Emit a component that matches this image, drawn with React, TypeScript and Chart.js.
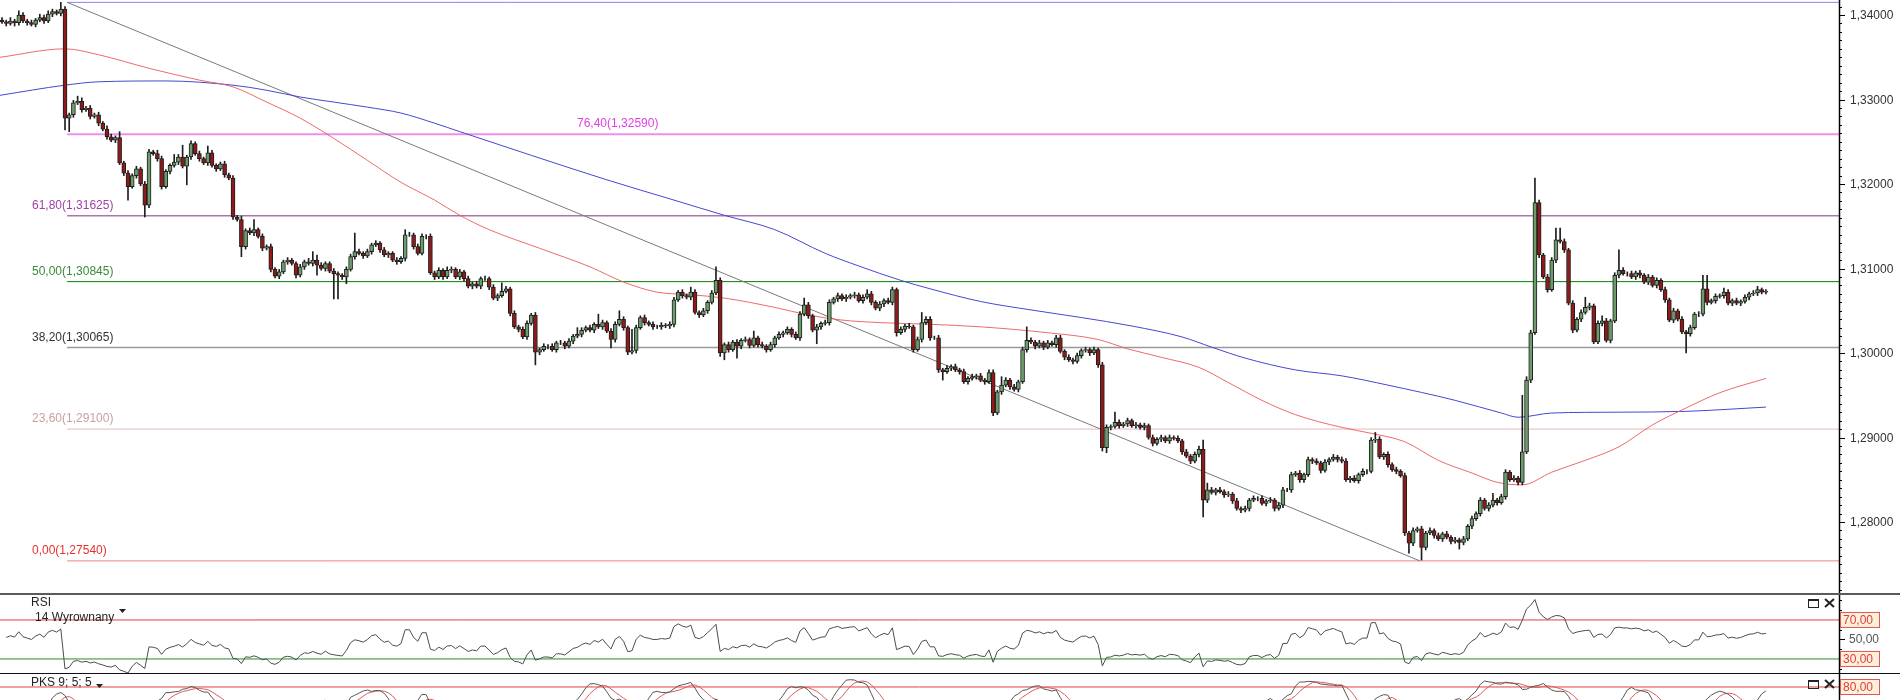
import React, { useEffect, useRef } from "react";
import { Chart, registerables } from "chart.js";

Chart.register(...registerables);

// ---------- DATA (prices in 1/10000, e.g. 13392 = 1,3392) ----------
const FIRST_OPEN = 13394;

const closes = [
  13392,13390,13393,13391,13400,13393,13391,13389,13394,13397,
  13393,13401,13404,13402,13407,13278,13282,13296,13298,13288,
  13290,13280,13282,13272,13265,13256,13252,13255,13225,13213,
  13197,13210,13218,13200,13175,13238,13236,13230,13197,13215,
  13222,13226,13232,13221,13232,13248,13236,13230,13225,13237,
  13222,13218,13224,13211,13207,13161,13158,13126,13145,13142,
  13146,13138,13124,13126,13099,13091,13096,13108,13110,13106,
  13092,13102,13108,13106,13110,13104,13100,13106,13097,13094,
  13092,13090,13099,13114,13120,13118,13115,13120,13128,13130,
  13122,13116,13118,13110,13108,13112,13140,13140,13126,13118,
  13138,13138,13095,13090,13098,13090,13098,13099,13090,13096,
  13088,13079,13082,13079,13088,13088,13078,13065,13068,13073,
  13076,13047,13031,13028,13019,13035,13045,13001,13004,13008,
  13008,13004,13012,13012,13008,13014,13020,13022,13027,13030,
  13027,13034,13031,13036,13026,13016,13034,13040,13030,13001,
  13003,13030,13042,13036,13034,13031,13031,13033,13032,13034,
  13063,13072,13068,13066,13072,13048,13045,13050,13060,13071,
  13086,13000,13010,13004,13013,13008,13015,13016,13009,13018,
  13010,13008,13004,13010,13018,13022,13024,13028,13022,13018,
  13046,13057,13044,13027,13031,13035,13036,13060,13064,13068,
  13064,13066,13068,13069,13062,13066,13070,13060,13053,13058,
  13062,13060,13075,13024,13028,13032,13031,13004,13016,13036,
  13040,13018,13018,12980,12978,12982,12984,12980,12978,12966,
  12970,12972,12973,12968,12966,12977,12929,12954,12962,12968,
  12960,12957,12966,13004,13015,13013,13008,13012,13007,13012,
  13010,13018,13002,12995,12992,12990,12997,13003,13004,13000,
  13004,12986,12888,12912,12913,12918,12914,12916,12920,12914,
  12915,12912,12914,12900,12893,12898,12900,12896,12900,12899,
  12896,12883,12878,12872,12880,12886,12826,12838,12835,12838,
  12836,12832,12833,12825,12816,12814,12816,12826,12828,12828,
  12822,12825,12826,12816,12820,12838,12838,12856,12858,12850,
  12856,12874,12872,12870,12861,12871,12874,12877,12874,12872,
  12850,12852,12849,12856,12860,12860,12897,12898,12877,12880,
  12868,12862,12860,12855,12787,12775,12790,12792,12770,12787,
  12790,12784,12780,12786,12782,12777,12779,12776,12780,12795,
  12804,12810,12826,12816,12820,12826,12823,12830,12859,12850,
  12852,12847,12883,12968,13024,13178,13116,13090,13075,13110,
  13134,13132,13122,13059,13027,13040,13048,13054,13056,13013,
  13035,13038,13015,13038,13092,13098,13094,13094,13090,13095,
  13092,13084,13090,13080,13086,13075,13063,13039,13050,13040,
  13025,13023,13030,13046,13046,13076,13060,13062,13067,13068,
  13072,13059,13062,13059,13061,13066,13070,13071,13075,13072,
  13073,
];

// upper / lower shadow lengths beyond the body (1/10000)
const wickUp = [
  3,2,4,2,5,3,2,3,2,4, 3,4,3,2,8,3,2,3,6,4, 2,3,2,3,2,4,3,2,7,2, 3,2,3,2,3,3,2,4,3,2,
  2,9,3,14,2,3,2,3,2,8, 3,2,2,3,2,3,2,4,2,3, 12,2,3,2,3,2,3,2,3,2, 2,3,2,4,10,6,3,2,2,3,
  2,2,3,3,22,3,2,3,2,3, 2,3,2,2,3,2,6,3,2,3, 3,2,3,2,3,2,4,3,2,3, 2,3,2,3,2,3,2,3,2,10,
  3,2,3,2,3,3,2,3,2,3, 2,3,2,3,2,3,2,8,3,2, 3,2,12,3,2,3,3,10,3,2, 25,3,2,3,2,3,2,3,2,3,
  3,2,3,2,6,3,2,3,2,3, 16,3,2,3,2,3,2,3,2,8, 2,3,2,3,2,3,2,3,2,3, 3,8,3,2,3,2,3,3,2,3,
  2,3,2,3,2,3,5,3,2,3, 2,3,3,2,3,2,3,2,3,12, 3,3,2,3,2,3,2,3,2,3, 2,3,2,3,2,3,3,2,10,3,
  2,3,2,3,16,3,2,3,2,3, 2,3,3,2,3,2,3,2,3,2, 3,2,3,3,2,12,3,2,3,2, 3,2,3,2,3,2,3,2,3,2,
  3,2,3,2,3,4,11,8,3,2, 3,2,3,2,3,2,3,2,3,2, 3,2,3,2,3,3,2,3,2,3, 2,3,2,3,2,3,2,3,2,3,
  3,2,3,2,3,2,3,8,3,2, 3,2,3,2,3,2,3,2,3,2, 3,2,3,2,3,2,3,2,3,2, 3,2,3,2,3,8,2,3,3,2,
  3,2,67,4,3,29,3,2,3,3, 14,14,3,2,3,2,3,12,3,2, 3,6,3,2,3,24,3,2,3,2, 3,2,3,2,3,2,3,2,3,2,
  3,2,3,2,3,16,16,2,3,2, 5,3,2,3,2,3,2,3,4,2, 2,
];
const wickDn = [
  2,3,2,4,3,2,3,2,3,2, 3,2,3,2,3,14,16,3,2,3, 2,3,2,3,2,3,2,3,2,3, 16,2,3,2,14,3,2,3,3,2,
  3,2,3,2,22,3,2,3,2,3, 2,3,2,3,2,3,2,12,3,2, 3,2,3,2,3,2,3,2,3,2, 3,2,3,2,3,12,2,3,2,30,
  28,3,8,2,3,2,3,2,3,2, 3,2,3,2,3,2,3,2,3,2, 2,3,2,3,2,3,2,3,2,3, 3,2,3,2,3,2,3,2,3,2,
  2,3,2,3,2,3,2,15,3,2, 3,2,3,2,3,2,3,2,3,2, 2,3,2,3,2,10,3,2,3,3, 2,3,2,3,2,3,2,3,2,3,
  3,2,3,2,3,2,3,2,3,2, 2,4,8,3,2,14,3,2,3,2, 3,2,3,2,3,2,3,2,3,2, 3,2,3,2,16,3,2,3,2,3,
  2,3,2,3,2,3,2,3,2,3, 3,2,3,4,2,3,2,3,2,3, 2,3,2,3,10,2,3,2,3,2, 3,2,3,2,3,2,3,2,3,2,
  3,2,3,2,3,2,3,2,3,2, 2,3,2,3,2,3,2,3,2,3, 2,3,4,6,3,2,3,2,3,2, 3,2,3,2,3,2,3,2,3,2,
  2,3,2,3,2,3,20,3,2,3, 2,3,2,3,2,3,2,3,2,3, 2,3,2,3,2,3,2,3,2,3, 3,2,3,2,3,2,3,2,3,2,
  2,3,2,3,2,3,2,3,2,3, 3,2,3,2,3,12,3,2,15,3, 2,3,2,3,2,3,2,8,3,2, 3,2,3,2,3,2,3,2,3,2,
  2,3,3,2,3,2,3,2,3,2, 3,2,3,2,3,2,3,2,3,2, 2,3,2,3,2,3,2,3,2,3, 3,2,3,2,3,2,3,2,3,2,
  2,23,3,2,3,2,3,2,3,2, 3,2,3,2,3,2,3,2,3,2, 2,
];

// moving averages: candle index -> price (1/10000)
const redMaIdx = [-0.5,15,23,35,47,55,63,71,79,87,95,103,109,116,128,140,148,156,164,172,184,192,200,209,221,233,249,261,268,276,285,292,300,308,319,326,334,342,350,356,362,369,377,385,393,401,409,420];
const redMaVal = [13350,13360,13353,13337,13323,13315,13297,13278,13254,13228,13202,13181,13163,13146,13124,13102,13084,13072,13069,13065,13054,13045,13039,13036,13034,13031,13024,13016,13005,12995,12983,12965,12944,12927,12912,12905,12895,12873,12858,12847,12844,12859,12873,12889,12915,12935,12953,12970];
const blueMaIdx = [-0.5,15,23,39,55,63,71,79,87,95,103,109,126,144,160,172,184,196,204,214,221,233,245,257,269,281,288,296,308,319,330,346,357,361,369,385,401,420];
const blueMaVal = [13305,13317,13321,13322,13317,13311,13303,13297,13291,13284,13272,13262,13234,13205,13181,13163,13146,13118,13103,13086,13076,13061,13051,13042,13032,13019,13007,12994,12980,12973,12962,12944,12929,12924,12929,12930,12931,12936];

// Fibonacci retracement
const fibPct = [0, 23.6, 38.2, 50, 61.8, 76.4, 100];
const fibPrice = [1.2754, 1.291, 1.30065, 1.30845, 1.31625, 1.3259, 1.3415];
const fibLineColor = ["#f08080", "#e6b8b8", "#9a9a9a", "#008000", "#a878a8", "#f08ef0", "#8484f0"];
const fibTextColor = ["#e83030", "#c8a0a0", "#333333", "#3a8a3a", "#a040a8", "#e040e0", "#6060e0"];
const fibLineWidth = [1, 1, 1.5, 1, 1.5, 2, 1];
const fibLabelX = [32, 32, 32, 32, 32, 577, 32];
const FIB_START = 15.5;

// trend line (100% high -> 0% low)
const trendIdx = [15.5, 337.6];
const trendVal = [1.3415, 1.2754];

// indicator settings
const RSI_PERIOD = 14;
const RSI_LEVELS = [70, 30];
const RSI_SEED = [3.2, 2.8];
const STOCH_PARAMS = [9, 5, 5];
const PKS_LEVEL = 80;

// axes ranges
const X_MIN = -0.48;
const X_MAX = 437.4;
const Y_MIN = 1.2716;
const Y_MAX = 1.34178;
const RSI_MIN = 15.6;
const RSI_MAX = 95.6;
const PKS_MIN = 56.36;
const PKS_MAX = 105.45;

const FONT = '12px "Liberation Sans", Arial, sans-serif';
const AXIS_X = 1839;
const GREEN = "#6c9c6c";
const RED = "#8e1a1a";
const EDGE = "#1e1e1e";

// ---------- derived ----------
const P = (v: number) => v / 10000;
const opens = closes.map((c, i) => (i === 0 ? FIRST_OPEN : closes[i - 1]));
const highs = closes.map((c, i) => Math.max(opens[i], c) + wickUp[i]);
const lows = closes.map((c, i) => Math.min(opens[i], c) - wickDn[i]);

function rsiSeries(cl: number[], n: number) {
  let ag = RSI_SEED[0];
  let al = RSI_SEED[1];
  const out: { x: number; y: number }[] = [];
  for (let i = 1; i < cl.length; i++) {
    const d = cl[i] - cl[i - 1];
    ag = (ag * (n - 1) + Math.max(d, 0)) / n;
    al = (al * (n - 1) + Math.max(-d, 0)) / n;
    out.push({ x: i, y: al === 0 ? 100 : 100 - 100 / (1 + ag / al) });
  }
  return out;
}

function sma(arr: number[], n: number) {
  return arr.map((_, i) => {
    const s = Math.max(0, i - n + 1);
    let sum = 0;
    for (let j = s; j <= i; j++) sum += arr[j];
    return sum / (i - s + 1);
  });
}

function stochastic() {
  const [kp, sl, dp] = STOCH_PARAMS;
  const raw = closes.map((c, i) => {
    const s = Math.max(0, i - kp + 1);
    let hh = -Infinity;
    let ll = Infinity;
    for (let j = s; j <= i; j++) {
      hh = Math.max(hh, highs[j]);
      ll = Math.min(ll, lows[j]);
    }
    return hh === ll ? 50 : ((c - ll) / (hh - ll)) * 100;
  });
  const k = sma(raw, sl);
  const d = sma(k, dp);
  return { k, d };
}

const baseOptions = (ymin: number, ymax: number, bottomPad = 0) => ({
  animation: false as const,
  responsive: false,
  devicePixelRatio: 1,
  events: [] as any[],
  layout: { padding: { left: 0, right: 0, top: 0, bottom: bottomPad } },
  plugins: { legend: { display: false }, tooltip: { enabled: false } },
  scales: {
    x: { type: "linear" as const, min: X_MIN, max: X_MAX, display: false, offset: false },
    y: {
      type: "linear" as const,
      position: "right" as const,
      min: ymin,
      max: ymax,
      grid: { display: false },
      border: { display: false },
      ticks: { display: false },
      afterFit: (s: any) => {
        s.width = 1900 - AXIS_X;
      },
    },
  },
});

function hLine(y: number, color: string, width = 1, x0 = X_MIN) {
  return {
    type: "line" as const,
    data: [
      { x: x0, y },
      { x: X_MAX, y },
    ],
    borderColor: color,
    borderWidth: width,
    pointRadius: 0,
    order: 3,
  };
}

function axisLine(ctx: CanvasRenderingContext2D, h: number) {
  ctx.strokeStyle = "#000";
  ctx.lineWidth = 1.5;
  ctx.beginPath();
  ctx.moveTo(AXIS_X + 0.5, 0);
  ctx.lineTo(AXIS_X + 0.5, h);
  ctx.stroke();
}

function levelBox(ctx: CanvasRenderingContext2D, cy: number, text: string) {
  ctx.fillStyle = "#fdf0da";
  ctx.fillRect(AXIS_X + 1, cy - 8, 40, 16);
  ctx.strokeStyle = "#e05555";
  ctx.lineWidth = 1;
  ctx.strokeRect(AXIS_X + 1.5, cy - 7.5, 39, 15);
  ctx.fillStyle = "#e03c3c";
  ctx.font = FONT;
  ctx.textAlign = "left";
  ctx.textBaseline = "middle";
  ctx.fillText(text, AXIS_X + 4, cy + 0.5);
}

function winIcons(ctx: CanvasRenderingContext2D, top: number) {
  ctx.strokeStyle = "#222";
  ctx.lineWidth = 1;
  ctx.strokeRect(1808.5, top + 0.5, 10, 8);
  ctx.fillStyle = "#222";
  ctx.fillRect(1808, top, 11, 2);
  ctx.lineWidth = 2;
  ctx.beginPath();
  ctx.moveTo(1825, top);
  ctx.lineTo(1834, top + 8);
  ctx.moveTo(1834, top);
  ctx.lineTo(1825, top + 8);
  ctx.stroke();
}

function triangle(ctx: CanvasRenderingContext2D, x: number, y: number) {
  ctx.fillStyle = "#222";
  ctx.beginPath();
  ctx.moveTo(x, y);
  ctx.lineTo(x + 7, y);
  ctx.lineTo(x + 3.5, y + 4);
  ctx.closePath();
  ctx.fill();
}

const fmt = (v: number, d: number) => v.toFixed(d).replace(".", ",");

// ---------- MAIN PANEL ----------
function mainConfig(): any {
  const bodyData = closes.map((c, i) => ({ x: i, y: [P(opens[i]), P(c)] }));
  const wickData = closes.map((c, i) => ({ x: i, y: [P(lows[i]), P(highs[i])] }));
  const bodyColors = closes.map((c, i) => (c >= opens[i] ? GREEN : RED));

  const plugin = {
    id: "mainDecor",
    afterDraw(chart: any) {
      const ctx: CanvasRenderingContext2D = chart.ctx;
      const ys = chart.scales.y;
      ctx.save();
      // fib labels
      ctx.font = FONT;
      ctx.textAlign = "left";
      ctx.textBaseline = "middle";
      fibPct.forEach((p, j) => {
        ctx.fillStyle = fibTextColor[j];
        ctx.fillText(`${fmt(p, 2)}(${fmt(fibPrice[j], 5)})`, fibLabelX[j], ys.getPixelForValue(fibPrice[j]) - 10);
      });
      // axis
      axisLine(ctx, chart.height);
      ctx.strokeStyle = "#000";
      ctx.lineWidth = 1;
      const k0 = Math.ceil(Y_MIN * 1000);
      const k1 = Math.floor(Y_MAX * 1000);
      for (let k = k0; k <= k1; k++) {
        const py = Math.round(ys.getPixelForValue(k / 1000)) + 0.5;
        const major = k % 10 === 0;
        ctx.beginPath();
        ctx.moveTo(AXIS_X, py);
        ctx.lineTo(AXIS_X + (major ? 6 : 3), py);
        ctx.stroke();
        if (major) {
          ctx.fillStyle = "#333";
          ctx.fillText(fmt(k / 1000, 5), AXIS_X + 11, py);
        }
      }
      // panel separator
      ctx.fillStyle = "#5a5a5a";
      ctx.fillRect(0, chart.height - 2, chart.width, 2);
      ctx.restore();
    },
  };

  const datasets: any[] = [
    {
      type: "bar",
      data: bodyData,
      backgroundColor: bodyColors,
      borderColor: EDGE,
      borderWidth: 1,
      borderSkipped: false,
      barThickness: 4,
      grouped: false,
      order: 0,
    },
    {
      type: "bar",
      data: wickData,
      backgroundColor: EDGE,
      borderWidth: 0,
      barThickness: 1,
      grouped: false,
      order: 1,
    },
    {
      type: "line",
      data: redMaIdx.map((x, k) => ({ x, y: P(redMaVal[k]) })),
      borderColor: "rgba(236,90,90,0.9)",
      borderWidth: 1,
      pointRadius: 0,
      cubicInterpolationMode: "monotone",
      order: 2,
    },
    {
      type: "line",
      data: blueMaIdx.map((x, k) => ({ x, y: P(blueMaVal[k]) })),
      borderColor: "#4646d2",
      borderWidth: 1,
      pointRadius: 0,
      cubicInterpolationMode: "monotone",
      order: 2,
    },
    {
      type: "line",
      data: trendIdx.map((x, k) => ({ x, y: trendVal[k] })),
      borderColor: "#7a7a7a",
      borderWidth: 1,
      pointRadius: 0,
      order: 2,
    },
    ...fibPrice.map((v, j) => hLine(v, fibLineColor[j], fibLineWidth[j], FIB_START)),
  ];

  return {
    type: "bar",
    data: { datasets },
    options: baseOptions(Y_MIN, Y_MAX, 2),
    plugins: [plugin],
  };
}

// ---------- RSI PANEL ----------
function rsiConfig(): any {
  const plugin = {
    id: "rsiDecor",
    afterDraw(chart: any) {
      const ctx: CanvasRenderingContext2D = chart.ctx;
      const ys = chart.scales.y;
      ctx.save();
      ctx.font = FONT;
      ctx.textAlign = "left";
      ctx.textBaseline = "middle";
      ctx.fillStyle = "#222";
      ctx.fillText("RSI", 31, 8);
      ctx.fillText("14 Wyrownany", 35, 23);
      triangle(ctx, 119, 14);
      winIcons(ctx, 4);
      axisLine(ctx, chart.height);
      ctx.strokeStyle = "#000";
      ctx.lineWidth = 1;
      for (let v = 20; v <= 90; v += 10) {
        const py = Math.round(ys.getPixelForValue(v)) + 0.5;
        ctx.beginPath();
        ctx.moveTo(AXIS_X, py);
        ctx.lineTo(AXIS_X + (v === 50 ? 6 : 3), py);
        ctx.stroke();
      }
      ctx.fillStyle = "#555";
      ctx.fillText(fmt(50, 2), AXIS_X + 10, ys.getPixelForValue(50));
      RSI_LEVELS.forEach((lv) => levelBox(ctx, ys.getPixelForValue(lv), fmt(lv, 2)));
      ctx.restore();
    },
  };
  return {
    type: "line",
    data: {
      datasets: [
        hLine(RSI_LEVELS[0], "#e04040", 1),
        hLine(RSI_LEVELS[1], "#2a8a2a", 1),
        {
          data: rsiSeries(closes, RSI_PERIOD),
          borderColor: "#4c4c4c",
          borderWidth: 1,
          pointRadius: 0,
          order: 1,
        },
      ],
    },
    options: baseOptions(RSI_MIN, RSI_MAX),
    plugins: [plugin],
  };
}

// ---------- PKS PANEL ----------
function pksConfig(): any {
  const { k, d } = stochastic();
  const plugin = {
    id: "pksDecor",
    afterDraw(chart: any) {
      const ctx: CanvasRenderingContext2D = chart.ctx;
      const ys = chart.scales.y;
      ctx.save();
      ctx.fillStyle = "#111";
      ctx.fillRect(0, 0, chart.width, 1);
      ctx.font = FONT;
      ctx.textAlign = "left";
      ctx.textBaseline = "middle";
      ctx.fillStyle = "#222";
      ctx.fillText("PKS 9; 5; 5", 31, 10);
      triangle(ctx, 96, 11);
      winIcons(ctx, 7);
      axisLine(ctx, chart.height);
      levelBox(ctx, ys.getPixelForValue(PKS_LEVEL), fmt(PKS_LEVEL, 2));
      ctx.restore();
    },
  };
  return {
    type: "line",
    data: {
      datasets: [
        hLine(PKS_LEVEL, "#e04040", 1),
        {
          data: k.map((y, i) => ({ x: i, y })),
          borderColor: "#555",
          borderWidth: 1,
          pointRadius: 0,
          order: 1,
        },
        {
          data: d.map((y, i) => ({ x: i, y })),
          borderColor: "#e05a5a",
          borderWidth: 1,
          pointRadius: 0,
          order: 2,
        },
      ],
    },
    options: baseOptions(PKS_MIN, PKS_MAX),
    plugins: [plugin],
  };
}

export default function App() {
  const mainRef = useRef<HTMLCanvasElement>(null);
  const rsiRef = useRef<HTMLCanvasElement>(null);
  const pksRef = useRef<HTMLCanvasElement>(null);

  useEffect(() => {
    const charts = [
      new Chart(mainRef.current as HTMLCanvasElement, mainConfig()),
      new Chart(rsiRef.current as HTMLCanvasElement, rsiConfig()),
      new Chart(pksRef.current as HTMLCanvasElement, pksConfig()),
    ];
    return () => charts.forEach((c) => c.destroy());
  }, []);

  return (
    <div
      style={{
        position: "absolute",
        left: 0,
        top: 0,
        width: 1900,
        height: 700,
        background: "#fff",
        overflow: "hidden",
      }}
    >
      <canvas ref={mainRef} width={1900} height={595} style={{ position: "absolute", left: 0, top: 0 }} />
      <canvas ref={rsiRef} width={1900} height={78} style={{ position: "absolute", left: 0, top: 595 }} />
      <canvas ref={pksRef} width={1900} height={27} style={{ position: "absolute", left: 0, top: 673 }} />
    </div>
  );
}
